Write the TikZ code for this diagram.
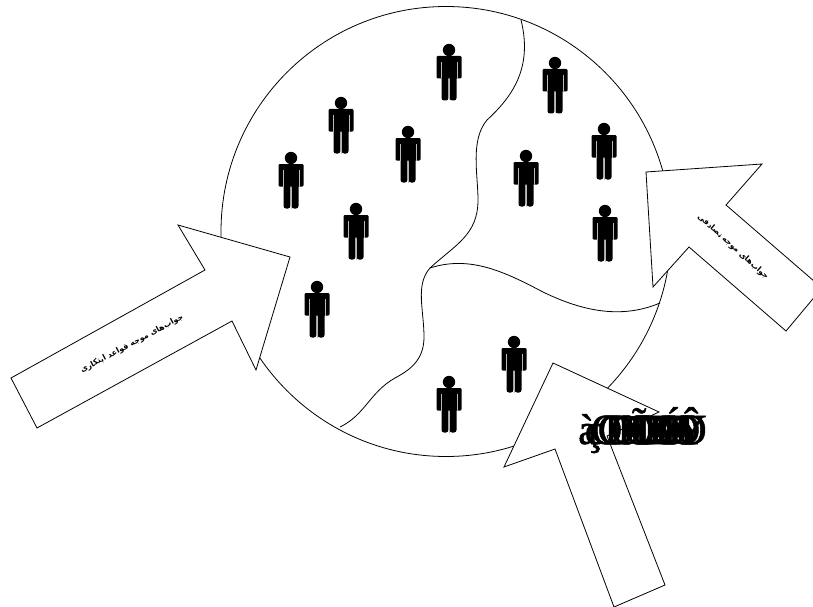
\documentclass[tikz,border=0pt]{standalone}
\usepackage{fontspec}
\setmainfont{Liberation Serif}
\newfontfamily\arabicfont[Script=Arabic]{DejaVu Sans}
\newfontfamily\overfont[FakeBold=1.2]{Liberation Serif}
\TeXXeTstate=1
\newcommand{\ovl}[1]{\makebox[6.5pt][l]{#1}}
\tikzset{
  x=1pt,y=-1pt,
  outline/.style={draw=black,line width=0.8pt},
  arrowshape/.style={outline,fill=white,line join=miter},
  faLabel/.style={font=\arabicfont\bfseries\fontsize{7.8}{9}\selectfont,inner sep=0pt},
  person/.pic={
    \fill (0,0) circle (6.2);
    \fill[rounded corners=1.2] (-12.5,6) rectangle (12.5,28.5);
    \fill[rounded corners=2.5] (-7.5,20) rectangle (-0.6,50.5);
    \fill[rounded corners=2.5] (0.6,20) rectangle (7.5,50.5);
    \draw[gray!55,line width=0.4pt] (-7.7,12) -- (-7.7,28.5) (7.7,12) -- (7.7,28.5) (0,30) -- (0,50.5);
  }
}
\begin{document}
\begin{tikzpicture}
\useasboundingbox (0,0) rectangle (813,607);
\fill[white] (0,0) rectangle (813,607);
\draw[outline] (446,231.5) circle (225);
% regions
\draw[outline] (521,20) .. controls (533,68) and (512,97) .. (487,120)
  .. controls (470,140) and (478,175) .. (478,200)
  .. controls (478,235) and (455,245) .. (430,268)
  .. controls (415,285) and (424,310) .. (424,337)
  .. controls (424,360) and (410,370) .. (395,378)
  .. controls (370,392) and (365,415) .. (340,427);
\draw[outline] (430,268) .. controls (470,255) and (505,272) .. (543,292)
  .. controls (580,310) and (620,320) .. (660,303);
% people
\foreach \px/\py in {449/50,555/63,341/103,604/129,408/132,526/156,291/158,356/209,605/211,317/287,514/342,449/382}
  \pic at (\px,\py) {person};
% arrows
\draw[arrowshape] (11,378) -- (205,270) -- (178,225) -- (290,257) -- (256,370) -- (232,321) -- (37,428) -- cycle;
\draw[arrowshape] (646,172) -- (762,164) -- (726,205) -- (822,288) -- (786,331) -- (689,247) -- (653,287) -- cycle;
\draw[arrowshape] (553,363) -- (659,412) -- (607,436) -- (665,585) -- (614,607) -- (555,449) -- (504,467) -- cycle;
% labels
\node[faLabel,rotate=28] (leftlabel) at (132,344) {\beginR جواب‌های موجه قواعد ابتکاری\endR};
\node[faLabel,rotate=-42] (rightlabel) at (733,247) {\beginR جواب‌های موجه تصادفی\endR};
\node[inner sep=0pt,anchor=base west,font=\overfont\fontsize{43}{43}\selectfont] (bottomlabel) at (578,444) {\ovl{à}\ovl{ç}\ovl{O}\ovl{C}\ovl{D}\ovl{O}\ovl{H}\ovl{Õ}\ovl{O}\ovl{D}\ovl{B}\ovl{O}\ovl{Ó}\ovl{H}\ovl{O}\makebox[0pt][l]{Y}\makebox[25pt][l]{Ô}};
\end{tikzpicture}
\end{document}
